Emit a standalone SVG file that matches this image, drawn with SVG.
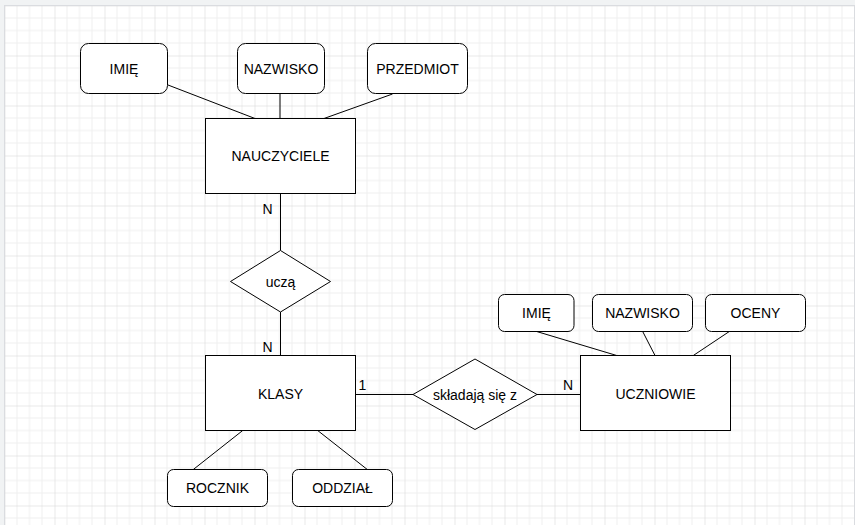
<svg xmlns="http://www.w3.org/2000/svg" width="855" height="525" viewBox="0 0 855 525">
<defs>
<pattern id="grid" x="4.5" y="5.5" width="50" height="50" patternUnits="userSpaceOnUse">
<path d="M12.5 0V50M25 0V50M37.5 0V50M0 12.5H50M0 25H50M0 37.5H50" stroke="#efefef" stroke-width="1" fill="none"/>
<path d="M0 0V50M0 0H50" stroke="#d4d4d4" stroke-width="1" fill="none"/>
</pattern>
<style>
.ent{fill:#fff;stroke:#000;stroke-width:1}
.attr{fill:#fff;stroke:#000;stroke-width:1}
.rel{fill:#fff;stroke:#000;stroke-width:1}
.ln{stroke:#000;stroke-width:1;fill:none}
text{font-family:"Liberation Sans",Arial,sans-serif;font-size:14px;fill:#000;text-anchor:middle}
</style>
</defs>
<rect x="0" y="0" width="855" height="525" fill="#f1f3f4"/>
<rect x="4.5" y="5.5" width="850" height="520" fill="#fff" stroke="#dadce0" stroke-width="1"/>
<rect x="5" y="6" width="849" height="519" fill="url(#grid)"/>
<g id="connectors">
<line class="ln" x1="168" y1="85" x2="255" y2="118.5"/>
<line class="ln" x1="280" y1="93.5" x2="280" y2="118.5" stroke-width="2"/>
<line class="ln" x1="392.5" y1="94" x2="324" y2="118.5"/>
<line class="ln" x1="280.5" y1="193.5" x2="280.5" y2="250.5"/>
<line class="ln" x1="280.5" y1="312" x2="280.5" y2="355.5"/>
<line class="ln" x1="355.5" y1="394.5" x2="413" y2="394.5"/>
<line class="ln" x1="537" y1="394.5" x2="580.5" y2="394.5"/>
<line class="ln" x1="536.7" y1="331.5" x2="616.7" y2="355.5"/>
<line class="ln" x1="642.7" y1="331.5" x2="655" y2="355.5"/>
<line class="ln" x1="729.3" y1="331.5" x2="693.3" y2="355.5"/>
<line class="ln" x1="242.7" y1="430.5" x2="193.3" y2="469.5"/>
<line class="ln" x1="317.7" y1="430.5" x2="367.3" y2="469.5"/>
<text x="267.5" y="214">N</text>
<text x="267.5" y="352">N</text>
<text x="362.5" y="390">1</text>
<text x="568" y="390">N</text>
</g>
<g id="nauczyciele"><rect class="ent" x="205.5" y="118.5" width="150" height="75"/><text x="280.5" y="161">NAUCZYCIELE</text></g>
<g id="imie1"><rect class="attr" x="80.5" y="43.5" width="87" height="50" rx="8"/><text x="124" y="73.5">IMIĘ</text></g>
<g id="nazwisko1"><rect class="attr" x="237.5" y="43.5" width="87" height="50" rx="8"/><text x="281" y="73.5">NAZWISKO</text></g>
<g id="przedmiot"><rect class="attr" x="367.5" y="43.5" width="100" height="50" rx="8"/><text x="417.5" y="73.5">PRZEDMIOT</text></g>
<g id="ucza"><polygon class="rel" points="280.5,250.5 330.5,281.5 280.5,312 230.5,281.5"/><text x="280.5" y="286.5">uczą</text></g>
<g id="klasy"><rect class="ent" x="205.5" y="355.5" width="150" height="75"/><text x="280.5" y="398.5">KLASY</text></g>
<g id="skladaja"><polygon class="rel" points="475,359 537,394.5 475,429.5 413,394.5"/><text x="475" y="399.5">składają się z</text></g>
<g id="uczniowie"><rect class="ent" x="580.5" y="355.5" width="150" height="75"/><text x="655.5" y="398.5">UCZNIOWIE</text></g>
<g id="imie2"><rect class="attr" x="498.5" y="294.5" width="75.5" height="37" rx="6"/><text x="536.5" y="318">IMIĘ</text></g>
<g id="nazwisko2"><rect class="attr" x="592.5" y="294.5" width="100" height="37" rx="6"/><text x="642.5" y="318">NAZWISKO</text></g>
<g id="oceny"><rect class="attr" x="705.5" y="294.5" width="100" height="37" rx="6"/><text x="755.5" y="318">OCENY</text></g>
<g id="rocznik"><rect class="attr" x="167.5" y="469.5" width="100" height="37" rx="6"/><text x="217.5" y="493">ROCZNIK</text></g>
<g id="oddzial"><rect class="attr" x="292.5" y="469.5" width="100" height="37" rx="6"/><text x="342.5" y="493">ODDZIAŁ</text></g>
</svg>
